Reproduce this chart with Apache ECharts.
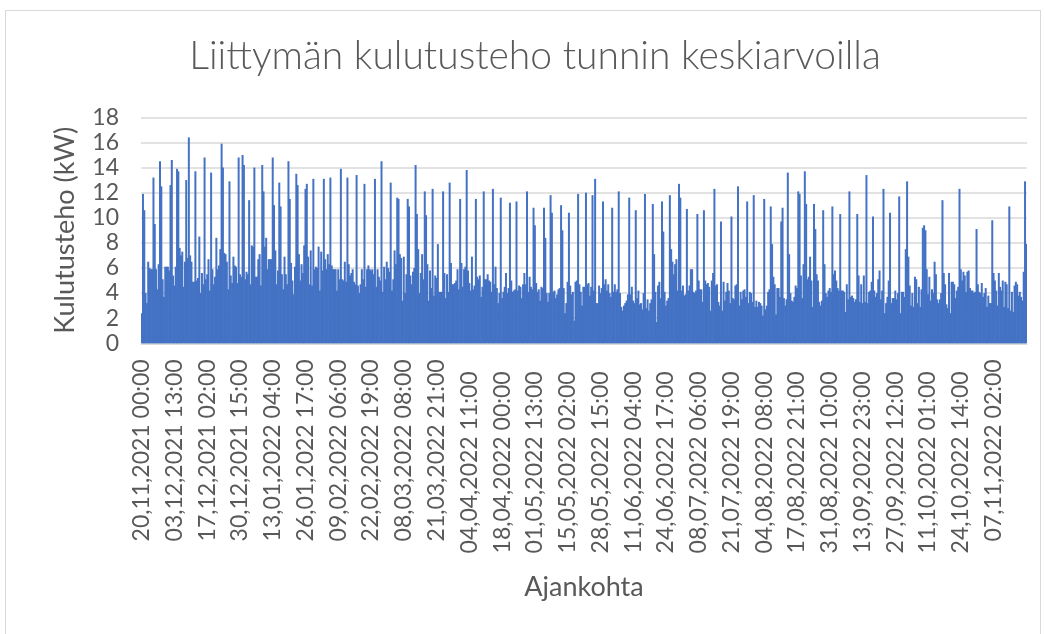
<!DOCTYPE html>
<html>
<head>
<meta charset="utf-8">
<script src="https://cdn.jsdelivr.net/npm/echarts@6/dist/echarts.min.js"></script>
<style>
  html, body { margin: 0; padding: 0; background: #fff; overflow: hidden; }
  #chart { width: 1045px; height: 634px; }
  #frame { position: absolute; left: 5px; top: 10px; width: 1034px; height: 700px;
           border: 1px solid #d9d9d9; pointer-events: none; }
</style>
</head>
<body>
<div id="frame"></div>
<div id="chart"></div>
<script>
  // tuntikeskiarvot luettu kuvasta 13 tunnin jaksoina (kW)
  const kw = [
    // 20.11.2021 -
    2.4, 11.9, 10.6, 4.0, 3.2, 6.5, 6.0, 5.9, 5.9, 13.2,
    9.5, 5.9, 4.3, 6.3, 14.5, 12.5, 5.1, 3.7, 6.1, 6.1,
    6.1, 5.8, 12.6, 14.6, 5.4, 4.6, 6.1, 13.9, 13.7, 7.6,
    7.0, 7.3, 4.5, 6.5, 13.0, 6.8, 16.4, 7.0, 6.5, 4.9,
    4.9, 13.7, 5.0, 5.2, 8.5, 4.0, 5.6, 4.7, 14.8, 5.1,
    5.5, 6.7, 4.2, 13.6, 5.9, 4.7, 5.3, 8.4, 5.9, 6.2,
    7.5, 15.9, 14.0, 7.2, 7.1, 6.5, 4.3, 12.9, 5.4, 4.8,
    6.9, 6.2, 6.1, 4.8, 14.8, 5.5, 5.3, 15.0, 14.2, 5.1,
    5.7, 5.5, 11.4, 4.7, 7.8,
    // tammikuu - helmikuu
    7.7, 14.0, 5.3, 5.3, 6.7, 7.1, 4.6, 14.2, 12.1, 7.7,
    8.4, 5.9, 6.7, 6.7, 6.7, 14.8, 11.0, 7.4, 4.7, 5.8,
    12.8, 10.9, 5.5, 4.3, 6.9, 5.5, 4.7, 14.5, 11.5, 6.4,
    5.0, 3.9, 6.1, 13.5, 12.6, 7.1, 5.0, 6.3, 5.6, 7.8,
    12.3, 12.7, 6.9, 4.7, 7.4, 4.6, 13.1, 5.9, 6.1, 6.0,
    7.7, 4.2, 7.3, 5.8, 13.1, 6.7, 5.9, 7.1, 6.3, 13.2,
    6.2, 5.9, 5.9, 5.9, 4.2, 5.9, 5.1, 13.9, 5.1, 5.0,
    6.5, 4.9, 13.2, 6.3, 5.4, 5.6, 5.9, 4.9, 4.7, 13.4,
    4.6, 4.0, 4.7,
    // maaliskuu - huhtikuu
    5.9, 5.1, 12.7, 4.5, 5.9, 6.2, 5.9, 5.8, 5.9, 5.5,
    13.1, 4.5, 5.9, 5.3, 5.0, 14.5, 4.1, 6.1, 5.1, 6.5,
    6.0, 5.7, 12.8, 4.2, 5.1, 7.4, 6.3, 11.6, 11.5, 7.1,
    6.8, 3.4, 6.9, 4.0, 5.5, 11.5, 10.9, 5.4, 4.7, 5.7,
    6.0, 14.2, 10.3, 7.5, 4.0, 5.6, 7.1, 5.1, 12.1, 10.2,
    6.3, 3.4, 5.8, 4.4, 12.3, 3.8, 5.4, 5.2, 7.9, 4.1,
    4.1, 4.1, 12.1, 5.6, 3.6, 5.5, 4.1, 12.8, 6.4, 4.7,
    4.7, 4.8, 5.0, 5.9, 4.3, 11.5, 6.4, 4.5, 5.9, 6.1,
    13.8, 5.8, 4.8, 4.2, 6.9,
    // huhtikuu - kesäkuu
    4.3, 4.6, 11.5, 5.3, 5.1, 5.4, 3.7, 4.5, 12.1, 5.1,
    5.1, 5.5, 5.0, 4.9, 4.1, 12.3, 4.7, 6.1, 4.4, 3.2,
    4.0, 11.6, 3.6, 4.1, 4.5, 5.6, 4.0, 4.4, 11.2, 5.0,
    4.1, 4.2, 4.3, 11.3, 4.2, 4.6, 4.5, 3.6, 4.7, 5.6,
    4.7, 12.1, 4.1, 5.3, 4.5, 4.3, 10.8, 9.4, 4.8, 4.1,
    4.3, 3.4, 4.5, 4.4, 10.8, 8.4, 4.0, 3.3, 4.0, 11.8,
    10.4, 4.1, 4.2, 3.6, 3.9, 4.3, 4.4, 11.0, 9.0, 4.4,
    2.4, 3.2, 4.9, 10.4, 4.6, 3.9, 4.1, 1.8, 4.9, 5.0,
    11.9, 4.7, 4.1, 3.0,
    // kesäkuu - heinäkuu
    4.5, 4.5, 12.0, 4.7, 4.8, 3.8, 4.5, 11.8, 4.2, 13.1,
    3.2, 3.2, 4.6, 4.0, 4.4, 11.3, 4.7, 5.1, 4.2, 4.7,
    4.0, 3.7, 10.8, 4.1, 4.7, 4.1, 4.3, 12.1, 4.0, 2.9,
    2.6, 3.0, 3.2, 3.4, 3.9, 11.6, 3.9, 4.5, 3.4, 3.2,
    10.6, 3.6, 4.2, 3.1, 3.2, 2.7, 4.0, 11.9, 2.8, 3.5,
    2.6, 3.2, 3.5, 11.1, 7.1, 4.1, 1.7, 4.6, 4.9, 3.6,
    11.3, 8.9, 4.1, 3.0, 3.4, 3.6, 11.8, 7.5, 6.5, 5.5,
    6.3, 6.7, 4.2, 12.7, 11.6, 4.2, 4.6, 3.8, 3.9, 10.7,
    4.2, 4.6, 5.9,
    // heinäkuu - syyskuu
    5.9, 4.1, 4.0, 4.2, 10.3, 5.0, 4.3, 4.3, 3.3, 10.6,
    5.0, 4.7, 4.8, 4.5, 2.6, 5.0, 5.6, 12.3, 4.6, 4.7,
    3.3, 3.0, 9.7, 2.6, 4.9, 3.4, 4.1, 4.8, 4.2, 3.2,
    10.1, 3.6, 3.5, 4.6, 4.7, 12.5, 3.0, 4.1, 3.5, 4.2,
    4.3, 3.7, 11.3, 3.2, 4.1, 4.0, 3.3, 11.8, 2.9, 3.4,
    2.9, 3.3, 3.2, 3.0, 2.2, 11.5, 2.7, 3.0, 4.1, 4.3,
    10.9, 7.9, 5.3, 4.7, 2.3, 4.4, 4.4, 3.7, 9.7, 10.8,
    3.6, 3.0, 3.5, 13.6, 7.1, 4.0, 3.4, 3.3, 3.7, 4.6,
    4.4, 12.1, 11.9, 5.4,
    // syyskuu - lokakuu
    3.6, 6.3, 13.7, 11.1, 5.1, 5.3, 6.9, 5.0, 2.9, 11.1,
    9.1, 5.5, 5.0, 3.3, 3.0, 3.4, 10.6, 6.3, 4.0, 3.7,
    4.2, 4.4, 4.1, 10.9, 5.5, 5.8, 5.0, 4.4, 4.2, 10.3,
    4.2, 4.2, 4.1, 2.5, 4.7, 3.5, 12.1, 3.7, 3.8, 3.6,
    3.3, 3.5, 10.3, 5.4, 3.3, 4.7, 3.2, 5.4, 3.3, 13.4,
    3.2, 4.1, 4.2, 4.9, 10.1, 4.2, 3.7, 4.0, 5.1, 5.8,
    3.5, 4.2, 12.3, 2.4, 3.2, 3.7, 5.0, 10.4, 3.2, 3.6,
    3.6, 4.2, 3.5, 4.0, 11.7, 2.4, 4.1, 4.1, 3.7, 7.5,
    12.9, 6.9, 4.6, 3.0,
    // lokakuu - 20.11.2022
    4.0, 2.9, 5.3, 5.1, 3.2, 4.5, 2.9, 4.3, 9.2, 9.4,
    9.0, 5.9, 3.9, 5.3, 3.4, 4.3, 4.0, 6.5, 5.5, 3.5,
    3.2, 3.5, 4.0, 11.4, 5.6, 4.7, 3.1, 2.8, 5.6, 2.4,
    4.9, 4.9, 4.7, 3.6, 4.2, 4.5, 12.3, 5.9, 5.0, 5.7,
    5.4, 4.1, 5.7, 5.8, 4.4, 4.2, 4.2, 4.0, 4.1, 9.1,
    4.7, 4.1, 4.0, 4.8, 3.7, 4.0, 4.4, 2.9, 3.8, 3.2,
    3.2, 9.8, 5.6, 5.0, 4.2, 3.0, 5.6, 4.5, 4.2, 5.0,
    2.9, 4.9, 4.7, 2.8, 10.9, 2.6, 4.1, 2.5, 4.6, 4.9,
    4.7, 3.8, 4.1, 3.7, 3.4, 5.7, 12.9, 7.9
  ];

  // aikaleimat: 20.11.2021 00:00 Suomen aikaa, 13 h välein
  const startUtc = Date.UTC(2021, 10, 19, 22);
  const binHours = 13;
  const dstStart = Date.UTC(2022, 2, 27, 1);
  const dstEnd = Date.UTC(2022, 9, 30, 1);

  function pad(n) { return String(n).padStart(2, '0'); }

  const categories = [];
  const summer = [];
  for (let i = 0; i < kw.length; i++) {
    const t = startUtc + i * binHours * 3600e3;
    const s = t >= dstStart && t < dstEnd;
    const d = new Date(t + (s ? 3 : 2) * 3600e3);
    categories.push(pad(d.getUTCDate()) + ',' + pad(d.getUTCMonth() + 1) + ',' +
      d.getUTCFullYear() + ' ' + pad(d.getUTCHours()) + ':00');
    summer.push(s);
  }

  const textColor = '#595959';
  const font = 'Lato, "Open Sans", sans-serif';

  const chart = echarts.init(document.getElementById('chart'));
  chart.setOption({
    animation: false,
    grid: { left: 141, right: 18, top: 117.3, bottom: 290.7 },
    graphic: [{
      type: 'text',
      x: 535,
      y: 37,
      style: {
        text: 'Liittymän kulutusteho tunnin keskiarvoilla',
        fill: textColor,
        font: '300 39px Lato, "Open Sans", sans-serif',
        textAlign: 'center',
        textVerticalAlign: 'top'
      }
    }],
    xAxis: {
      type: 'category',
      data: categories,
      name: 'Ajankohta',
      nameLocation: 'middle',
      nameGap: 230,
      nameTextStyle: { color: textColor, fontSize: 27, fontFamily: font },
      axisTick: { show: false },
      axisLine: { lineStyle: { color: '#d9d9d9', width: 1.5 } },
      axisLabel: {
        interval: 24,
        showMaxLabel: false,
        rotate: 90,
        margin: 16,
        color: textColor,
        fontSize: 23,
        fontFamily: font,
        formatter: function (v, i) {
          return summer[i] ? '{s|' + v + '}' : '{w|' + v + '}';
        },
        rich: {
          w: { color: textColor, fontSize: 23, fontFamily: font },
          s: { color: textColor, fontSize: 23, fontFamily: font, padding: [0, 12, 0, 0] }
        }
      }
    },
    yAxis: {
      type: 'value',
      min: 0,
      max: 18,
      interval: 2,
      name: 'Kulutusteho (kW)',
      nameLocation: 'middle',
      nameGap: 62,
      nameTextStyle: { color: textColor, fontSize: 27, fontFamily: font },
      axisLine: { show: false },
      axisTick: { show: false },
      axisLabel: { color: textColor, fontSize: 23, fontFamily: font, margin: 22 },
      splitLine: { lineStyle: { color: '#d9d9d9', width: 1.5 } }
    },
    series: [{
      type: 'bar',
      data: kw,
      barWidth: 2,
      silent: true,
      itemStyle: { color: '#4472C4' }
    }]
  });
</script>
</body>
</html>
